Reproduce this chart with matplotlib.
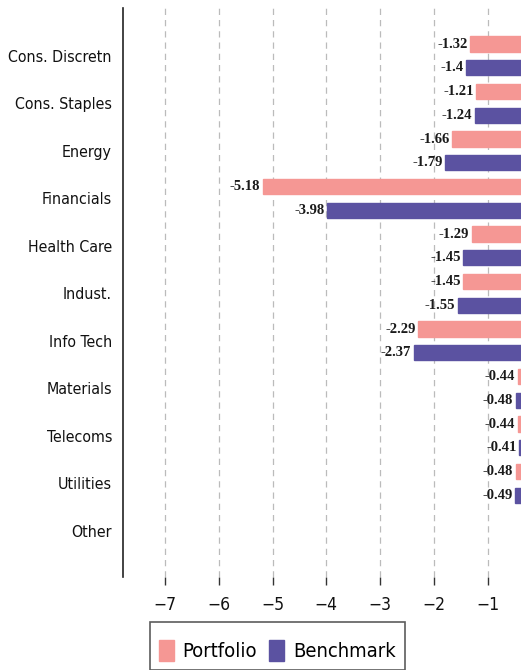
import numpy as np
import matplotlib
matplotlib.use("Agg")
import matplotlib.pyplot as plt

# ==========================================================
# DATA
# ==========================================================

sectors = [
    "Cons. Discretn", "Cons. Staples", "Energy", "Financials",
    "Health Care", "Indust.", "Info Tech", "Materials",
    "Telecoms", "Utilities", "Other",
]
portfolio = [-1.32, -1.21, -1.66, -5.18, -1.29, -1.45, -2.29, -0.44, -0.44, -0.48, None]
benchmark = [-1.40, -1.24, -1.79, -3.98, -1.45, -1.55, -2.37, -0.48, -0.41, -0.49, None]
x_ticks = [-7, -6, -5, -4, -3, -2, -1]

PINK = "#F59794"
BLUE = "#5B52A1"

SANS = ["DejaVu Sans"]
SERIF = ["Liberation Serif", "DejaVu Serif"]

# ==========================================================
# PLOT
# ==========================================================

fig = plt.figure(figsize=(5.21, 6.70), dpi=100)
ax = fig.add_axes([123 / 521, 1 - 577 / 670, 1 - 123 / 521, (577 - 8) / 670])

y = np.arange(len(sectors))
h = 0.32
off = 0.25

for vals, dy, col in [(portfolio, -off, PINK), (benchmark, off, BLUE)]:
    for i, v in enumerate(vals):
        if v is None:
            continue
        ax.barh(y[i] + dy, v, height=h, color=col, edgecolor=col, zorder=2)
        ax.text(v - 0.05, y[i] + dy, f"{v:g}",
                ha="right", va="center", fontsize=10.5, family=SERIF,
                fontweight="bold", color="#1a1a1a", zorder=3)

ax.set_xlim(-7.78, -0.38)
ax.set_ylim(len(sectors) - 0.03, -1.01)

ax.set_yticks(y)
ax.set_yticklabels(sectors, family=SANS, stretch="condensed", fontsize=11.4, color="#111111")
ax.tick_params(axis="y", length=0, pad=8)

ax.set_xticks(x_ticks)
ax.set_xticklabels([f"\u2212{abs(t)}" for t in x_ticks], family=SANS, stretch="condensed",
                   fontsize=12.5, color="#111111")
ax.tick_params(axis="x", length=6, width=1, color="#333333", pad=8)

ax.grid(axis="x", linestyle=(0, (5, 4)), color="#bbbbbb", linewidth=0.9, zorder=0)
ax.set_axisbelow(True)

for s in ["top", "right", "bottom"]:
    ax.spines[s].set_visible(False)
ax.spines["left"].set_color("#222222")
ax.spines["left"].set_linewidth(1.2)

# ==========================================================
# LEGEND
# ==========================================================

handles = [
    plt.Rectangle((0, 0), 1, 1, color=PINK),
    plt.Rectangle((0, 0), 1, 1, color=BLUE),
]
leg = fig.legend(
    handles, ["Portfolio", "Benchmark"],
    loc="upper left",
    bbox_to_anchor=(150 / 521, 1 - 622 / 670),
    ncol=2,
    prop={"family": SANS, "stretch": "condensed", "size": 14.5},
    title=" ",
    title_fontsize=3,
    labelspacing=0.25,
    frameon=True,
    fancybox=False,
    edgecolor="#333333",
    handlelength=0.72,
    handleheight=1.2,
    handletextpad=0.45,
    columnspacing=0.6,
    borderpad=0.45,
    borderaxespad=0,
)
leg.get_frame().set_linewidth(1.2)

plt.savefig("out.png", dpi=100)
plt.close()
